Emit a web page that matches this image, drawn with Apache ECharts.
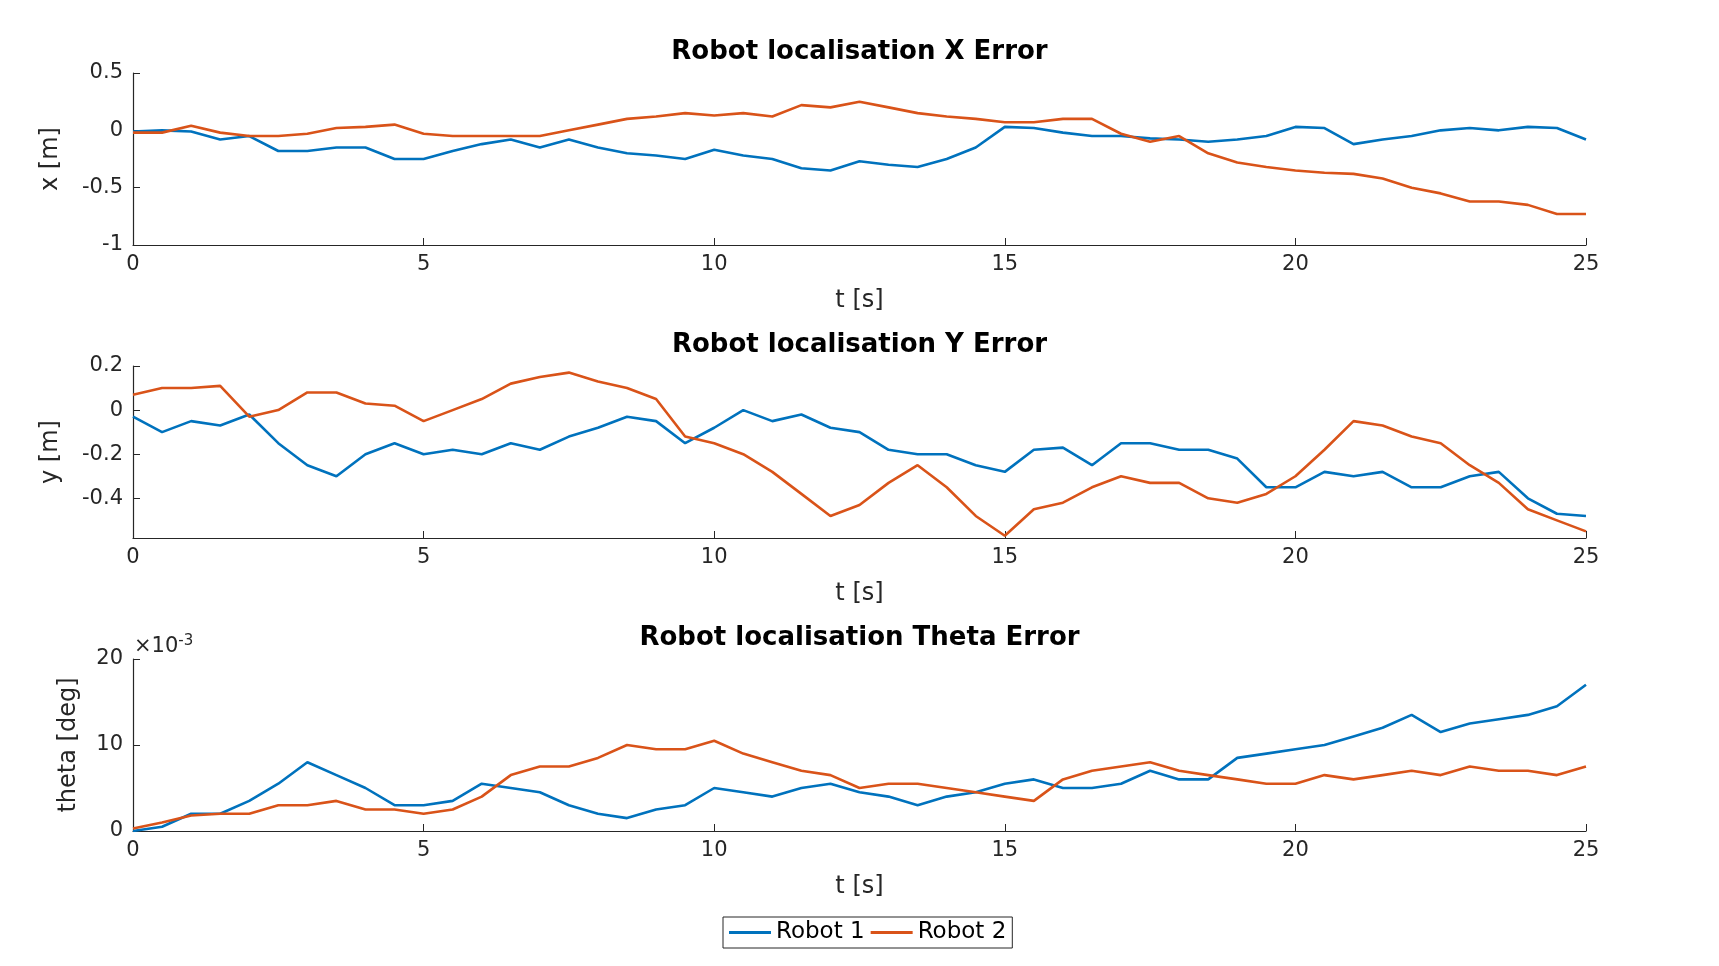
<!DOCTYPE html>
<html><head><meta charset="utf-8">
<script src="https://cdn.jsdelivr.net/npm/echarts@6/dist/echarts.min.js"></script>
<style>html,body{margin:0;padding:0;background:#fff}#c{width:1719px;height:966px}</style>
</head><body><div id="c"></div>
<script>
const t = [];
for (let i = 0; i <= 50; i++) t.push(i * 0.5);
const xErr1 = [-0.01,0.0,-0.01,-0.08,-0.05,-0.18,-0.18,-0.15,-0.15,-0.25,-0.25,-0.18,-0.12,-0.08,-0.15,-0.08,-0.15,-0.2,-0.22,-0.25,-0.17,-0.22,-0.25,-0.33,-0.35,-0.27,-0.3,-0.32,-0.25,-0.15,0.03,0.02,-0.02,-0.05,-0.05,-0.07,-0.08,-0.1,-0.08,-0.05,0.03,0.02,-0.12,-0.08,-0.05,0.0,0.02,0.0,0.03,0.02,-0.08];
const xErr2 = [-0.02,-0.02,0.04,-0.02,-0.05,-0.05,-0.03,0.02,0.03,0.05,-0.03,-0.05,-0.05,-0.05,-0.05,0.0,0.05,0.1,0.12,0.15,0.13,0.15,0.12,0.22,0.2,0.25,0.2,0.15,0.12,0.1,0.07,0.07,0.1,0.1,-0.03,-0.1,-0.05,-0.2,-0.28,-0.32,-0.35,-0.37,-0.38,-0.42,-0.5,-0.55,-0.62,-0.62,-0.65,-0.73,-0.73];
const yErr1 = [-0.03,-0.1,-0.05,-0.07,-0.02,-0.15,-0.25,-0.3,-0.2,-0.15,-0.2,-0.18,-0.2,-0.15,-0.18,-0.12,-0.08,-0.03,-0.05,-0.15,-0.08,0.0,-0.05,-0.02,-0.08,-0.1,-0.18,-0.2,-0.2,-0.25,-0.28,-0.18,-0.17,-0.25,-0.15,-0.15,-0.18,-0.18,-0.22,-0.35,-0.35,-0.28,-0.3,-0.28,-0.35,-0.35,-0.3,-0.28,-0.4,-0.47,-0.48];
const yErr2 = [0.07,0.1,0.1,0.11,-0.03,0.0,0.08,0.08,0.03,0.02,-0.05,0.0,0.05,0.12,0.15,0.17,0.13,0.1,0.05,-0.12,-0.15,-0.2,-0.28,-0.38,-0.48,-0.43,-0.33,-0.25,-0.35,-0.48,-0.57,-0.45,-0.42,-0.35,-0.3,-0.33,-0.33,-0.4,-0.42,-0.38,-0.3,-0.18,-0.05,-0.07,-0.12,-0.15,-0.25,-0.33,-0.45,-0.5,-0.55];
const thErr1 = [0,0.5,2,2,3.5,5.5,8,6.5,5,3,3,3.5,5.5,5,4.5,3,2,1.5,2.5,3,5,4.5,4,5,5.5,4.5,4,3,4,4.5,5.5,6,5,5,5.5,7,6,6,8.5,9,9.5,10,11,12,13.5,11.5,12.5,13,13.5,14.5,17];
const thErr2 = [0.3,1,1.8,2,2,3,3,3.5,2.5,2.5,2,2.5,4,6.5,7.5,7.5,8.5,10,9.5,9.5,10.5,9,8,7,6.5,5,5.5,5.5,5,4.5,4,3.5,6,7,7.5,8,7,6.5,6,5.5,5.5,6.5,6,6.5,7,6.5,7.5,7,7,6.5,7.5];
const titles = ['Robot localisation X Error','Robot localisation Y Error','Robot localisation Theta Error'];
const yNames = ['x [m]','y [m]','theta [deg]'];
const BLUE = '#0072BD', RED = '#D95319', F = 'DejaVu Sans';
const tops = [73, 366, 659];
const grids = tops.map(tp => ({left:133, right:133, top:tp, height:172}));
const xAxes = tops.map((tp,i) => ({
  type:'value', gridIndex:i, min:0, max:25, interval:5, name:'t [s]', nameLocation:'middle', nameGap:44,
  nameTextStyle:{fontFamily:F, fontSize:24, color:'#262626'},
  axisLine:{onZero:false, lineStyle:{color:'#262626', width:1.2}}, axisTick:{inside:true, length:7, lineStyle:{color:'#262626'}},
  axisLabel:{fontFamily:F, fontSize:21, color:'#262626', margin:9}, splitLine:{show:false}
}));
const yCommon = (i, extra) => Object.assign({
  type:'value', gridIndex:i, name:yNames[i], nameLocation:'middle', nameRotate:90,
  nameTextStyle:{fontFamily:F, fontSize:24, color:'#262626'},
  axisLine:{show:true, onZero:false, lineStyle:{color:'#262626', width:1.2}}, axisTick:{show:true, inside:true, length:7, lineStyle:{color:'#262626'}},
  axisLabel:{fontFamily:F, fontSize:21, color:'#262626', margin:10}, splitLine:{show:false}
}, extra);
const yAxes = [
  yCommon(0, {min:-1, max:0.5, interval:0.5, nameGap:70}),
  yCommon(1, {min:-0.58, max:0.2, nameGap:70,
    axisLabel:{fontFamily:F, fontSize:21, color:'#262626', margin:10, customValues:[-0.4,-0.2,0,0.2]},
    axisTick:{show:true, inside:true, length:7, lineStyle:{color:'#262626'}, customValues:[-0.4,-0.2,0,0.2]}}),
  yCommon(2, {min:0, max:20, interval:10, nameGap:52})
];
const mk = (name, data, color, i) => ({
  name, type:'line', xAxisIndex:i, yAxisIndex:i, showSymbol:false, symbol:'none',
  data: t.map((v,k)=>[v, data[k]]), lineStyle:{color, width:2.6}, itemStyle:{color}, animation:false, clip:true
});
const chart = echarts.init(document.getElementById('c'));
chart.setOption({
  backgroundColor:'#fff',
  title: titles.map((s,i)=>({text:s, left:'center', top:tops[i]-39, textStyle:{fontFamily:F, fontSize:26, fontWeight:'bold', color:'#000'}})),
  grid: grids, xAxis: xAxes, yAxis: yAxes,
  legend:{data:['Robot 1','Robot 2'], left:723, top:917, padding:[4,6], itemGap:6, itemWidth:42, itemHeight:3,
    icon:'rect', borderColor:'#262626', borderWidth:1, borderRadius:0, textStyle:{fontFamily:F, fontSize:23, color:'#000'}},
  graphic:[{type:'text', left:134, top:634, style:{text:'{a|×10}{b|-3}', rich:{a:{fontFamily:F, fontSize:21, fill:'#262626'}, b:{fontFamily:F, fontSize:15, fill:'#262626', verticalAlign:'top', padding:[0,0,10,0]}}}}],
  series:[
    mk('Robot 1', xErr1, BLUE, 0), mk('Robot 2', xErr2, RED, 0),
    mk('Robot 1', yErr1, BLUE, 1), mk('Robot 2', yErr2, RED, 1),
    mk('Robot 1', thErr1, BLUE, 2), mk('Robot 2', thErr2, RED, 2)
  ]
});
</script></body></html>
